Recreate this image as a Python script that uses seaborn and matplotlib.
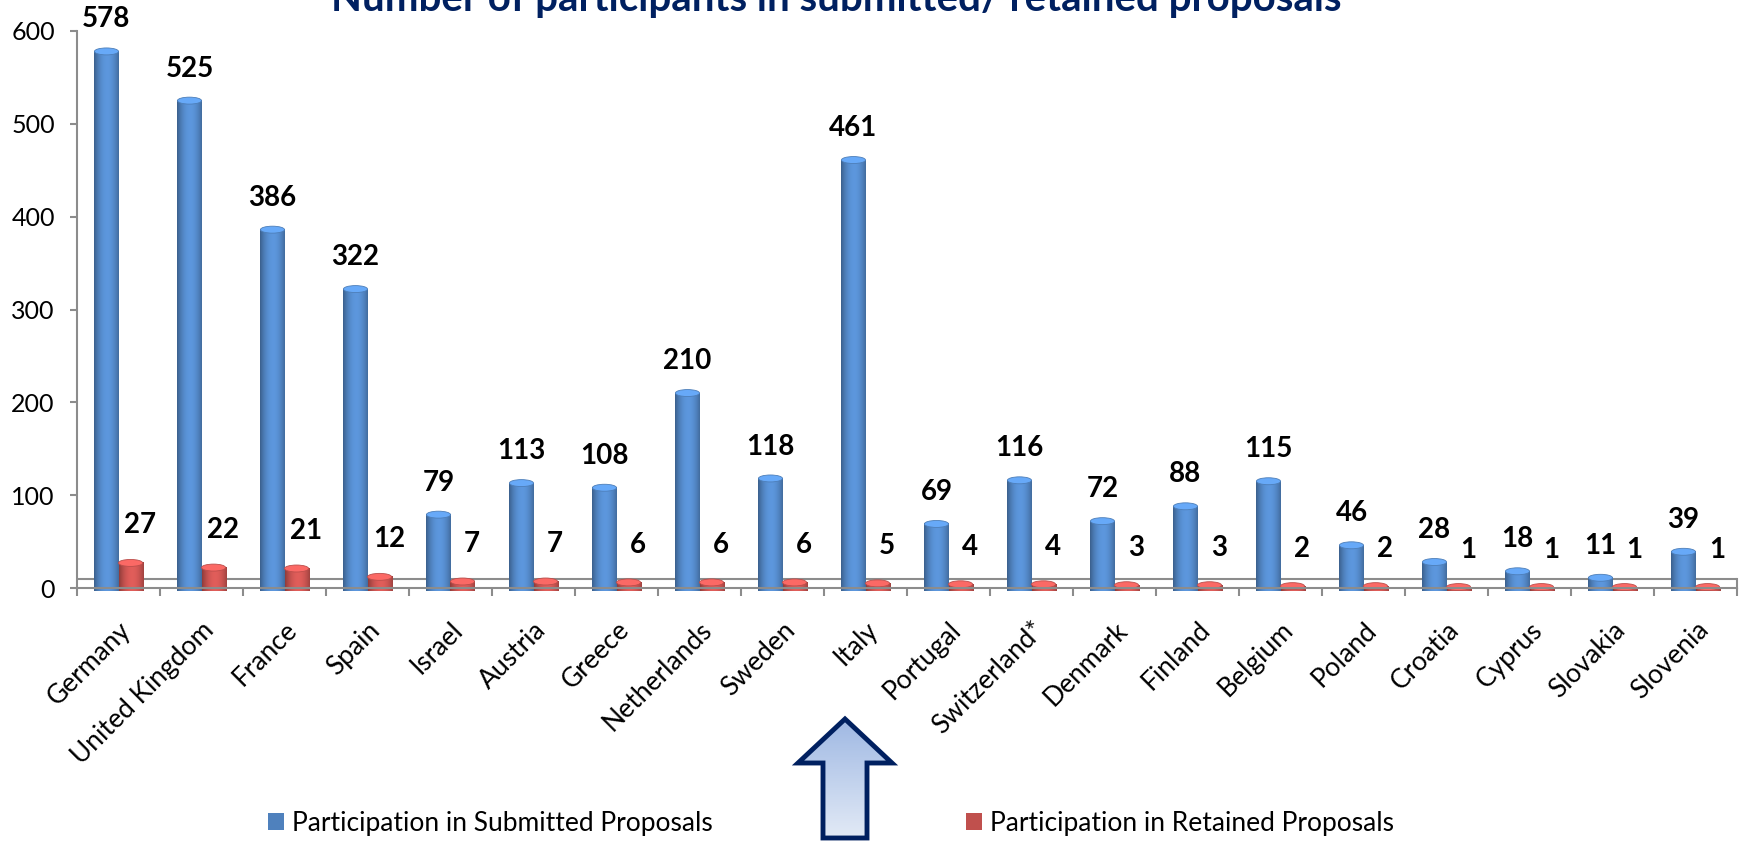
import numpy as np
import pandas as pd
import matplotlib.pyplot as plt
import matplotlib.patches as mpatches
from matplotlib.colors import to_rgb
import seaborn as sns

countries = ['Germany', 'United Kingdom', 'France', 'Spain', 'Israel', 'Austria',
             'Greece', 'Netherlands', 'Sweden', 'Italy', 'Portugal', 'Switzerland*',
             'Denmark', 'Finland', 'Belgium', 'Poland', 'Croatia', 'Cyprus',
             'Slovakia', 'Slovenia']
submitted = [578, 525, 386, 322, 79, 113, 108, 210, 118, 461, 69, 116, 72, 88, 115, 46, 28, 18, 11, 39]
retained = [27, 22, 21, 12, 7, 7, 6, 6, 6, 5, 4, 4, 3, 3, 2, 2, 1, 1, 1, 1]
series = ['Participation in Submitted Proposals', 'Participation in Retained Proposals']
colors = ['#4f81bd', '#c0504d']

df = pd.DataFrame({'country': countries * 2,
                   'value': submitted + retained,
                   'series': [series[0]] * len(countries) + [series[1]] * len(countries)})

sns.set_style('white')
plt.rcParams['font.family'] = ['Lato', 'DejaVu Sans']

W, H = 1748, 843
fig = plt.figure(figsize=(W / 100, H / 100), dpi=100)
ax = fig.add_axes([77 / W, 1 - 588 / H, (1737 - 77) / W, 557 / H])

sns.barplot(data=df, x='country', y='value', hue='series', order=countries,
            hue_order=series, palette=colors, width=0.58, gap=0, ax=ax,
            saturation=1, linewidth=0)

ax.set_xlim(-0.5, len(countries) - 0.5)
ax.set_ylim(0, 600)

# cylinder-like shading on each bar
def shade(base, boost=1.0):
    c = np.array(to_rgb(base))
    t = np.linspace(0, 1, 60)
    f = 0.62 + 0.55 * np.sin(np.pi * (t * 0.85 + 0.05)) ** 0.8
    img = np.clip(c[None, :] * f[:, None] * boost, 0, 1)
    return img[None, :, :]

cap_h = 7.5  # ellipse height in data units (about 7 px)
for cont, base in zip(ax.containers, colors):
    img = shade(base)
    cap = shade(base, 1.12)
    for bar in cont:
        x0, w, h = bar.get_x(), bar.get_width(), bar.get_height()
        z = bar.get_zorder()
        ax.imshow(img, extent=[x0, x0 + w, 0, h], aspect='auto',
                  zorder=z + 0.1, interpolation='bilinear')
        # rounded bottom and top of the cylinder
        bot = mpatches.Ellipse((x0 + w / 2, 0), w, cap_h, transform=ax.transData)
        im_b = ax.imshow(img, extent=[x0, x0 + w, -cap_h / 2, 0], aspect='auto',
                         zorder=z + 0.1, interpolation='bilinear', clip_on=False)
        im_b.set_clip_path(bot)
        ax.add_patch(mpatches.Ellipse((x0 + w / 2, h), w, cap_h, facecolor=cap[0, 30],
                                      edgecolor=cap[0, 5], lw=0.6, zorder=z + 0.2,
                                      clip_on=False))
ax.set_xlim(-0.5, len(countries) - 0.5)
ax.set_ylim(0, 600)

# value labels
for k, cont in enumerate(ax.containers):
    vals = submitted if k == 0 else retained
    dx = 0 if k == 0 else 7
    dy = 23 if k == 0 else 27
    for bar, v in zip(cont, vals):
        ax.annotate(str(v), (bar.get_x() + bar.get_width() / 2, bar.get_height()),
                    xytext=(dx, dy), textcoords='offset points',
                    ha='center', va='center', fontsize=20, fontweight='bold',
                    color='black')

# axes styling
grey = '#8c8c8c'
ax.spines['top'].set_visible(False)
for s in ['left', 'bottom', 'right']:
    ax.spines[s].set_color(grey)
    ax.spines[s].set_linewidth(1.5)
ax.spines['right'].set_bounds(0, 10)
ax.axhline(10, color=grey, lw=1.5, zorder=0.5)

ax.set_yticks(range(0, 601, 100))
ax.tick_params(axis='y', direction='out', length=5, width=1.5, color=grey,
               labelsize=18, labelcolor='black', pad=11, left=True)
ax.set_xticks(range(len(countries)))
ax.set_xticklabels(countries, rotation=45, ha='right', rotation_mode='anchor')
ax.set_xticks(np.arange(-0.5, len(countries), 1), minor=True)
ax.tick_params(axis='x', which='major', length=0, labelsize=19, labelcolor='black', pad=21)
ax.tick_params(axis='x', which='minor', direction='out', length=6, width=1.5,
               color=grey, bottom=True)
ax.set_xlabel('')
ax.set_ylabel('')

sns.move_legend(ax, 'center left', bbox_to_anchor=(268 / W, 1 - 823 / H),
                bbox_transform=fig.transFigure, ncol=2, frameon=False, title=None,
                fontsize=19, borderpad=0, borderaxespad=0, handlelength=0.6,
                handleheight=0.6, handletextpad=0.3, columnspacing=9.6)
for t in ax.get_legend().get_texts():
    t.set_color('black')

fig.text(836 / W, 1 - 11 / H, 'Number of participants in submitted/ retained proposals',
         ha='center', va='baseline', fontsize=29, fontweight='bold', color='#002060')

# highlight arrow below Italy
ov = fig.add_axes([0, 0, 1, 1], zorder=5)
ov.set_xlim(0, W)
ov.set_ylim(H, 0)
ov.axis('off')
pts = [(845, 719), (892, 763), (867, 763), (867, 838), (823, 838), (823, 763), (798, 763)]
arrow = mpatches.Polygon(pts, closed=True, facecolor='none', edgecolor='#002060', lw=3.5,
                         joinstyle='miter', zorder=3)
ov.add_patch(arrow)
top, bot = np.array(to_rgb('#9fb8e3')), np.array(to_rgb('#e2eaf6'))
grad = np.linspace(0, 1, 100)[:, None, None] * (bot - top) + top
im = ov.imshow(np.repeat(grad, 2, axis=1), extent=[798, 892, 838, 719], aspect='auto', zorder=2)
clip = mpatches.Polygon(pts, closed=True, transform=ov.transData)
im.set_clip_path(clip)
ov.set_xlim(0, W)
ov.set_ylim(H, 0)

fig.savefig('out.png', dpi=100)
